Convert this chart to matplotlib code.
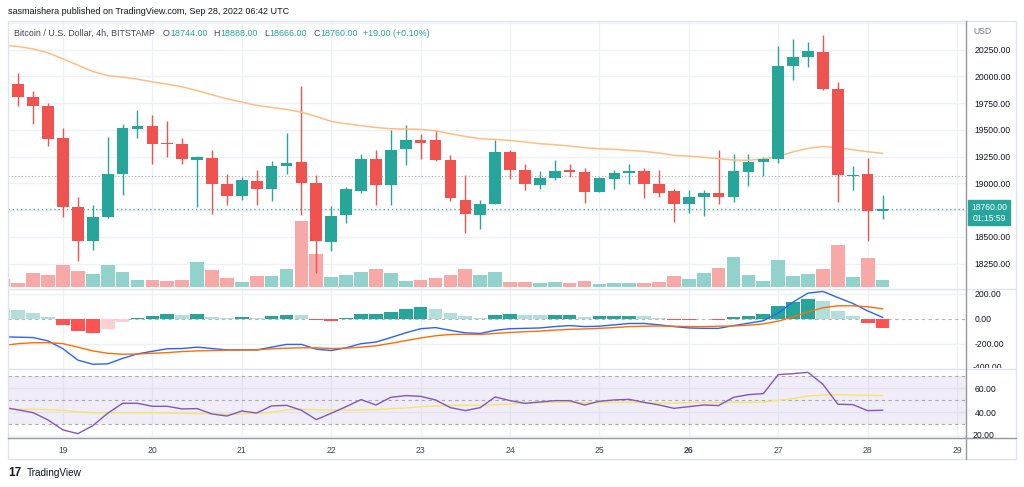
import matplotlib
matplotlib.use('Agg')
import matplotlib.pyplot as plt
from matplotlib.transforms import Bbox, TransformedBbox
from matplotlib.lines import Line2D
from matplotlib.patches import Rectangle

plt.rcParams['font.family'] = ['Liberation Sans', 'DejaVu Sans']

# ---------------- data (4h candles, 18 Sep 08:00 -> 28 Sep 04:00) ----------------
open_ = [20060, 19930, 19805, 19718, 19420, 18779, 18462, 18683, 19090, 19507,
         19535, 19370, 19367, 19221, 19239, 18991, 18879, 19019, 18944, 19162,
         19196, 19006, 18456, 18702, 18928, 19230, 18988, 19317, 19407, 19401,
         19221, 18841, 18708, 18810, 19292, 19121, 18988, 19053, 19121, 19103,
         18919, 19044, 19096, 19115, 18991, 18925, 18810, 18873, 18910, 18873,
         19106, 19202, 19230, 20097, 20178, 20231, 19883, 19065, 19084, 18744]
high = [20075, 20029, 19867, 19749, 19516, 18873, 18801, 19432, 19557, 19681,
        19634, 19578, 19426, 19255, 19308, 19090, 19059, 19127, 19205, 19473,
        19905, 19075, 18789, 18966, 19277, 19308, 19494, 19541, 19463, 19494,
        19267, 19075, 18848, 19401, 19308, 19177, 19112, 19215, 19177, 19146,
        19060, 19127, 19177, 19143, 19121, 18950, 18941, 18935, 19314, 19277,
        19270, 19246, 20287, 20349, 20324, 20387, 19945, 19159, 19236, 18888]
low = [19925, 19718, 19557, 19345, 18686, 18272, 18375, 18680, 18888, 19423,
       19183, 19246, 19183, 18779, 18717, 18795, 18848, 18801, 18835, 19084,
       18702, 18157, 18369, 18630, 18910, 18795, 18795, 19168, 19230, 19208,
       18835, 18537, 18577, 18805, 19044, 18935, 18950, 19034, 19059, 18817,
       18915, 18950, 18997, 18860, 18873, 18639, 18723, 18692, 18810, 18826,
       18978, 19072, 19193, 19967, 20085, 19874, 18826, 18935, 18462, 18666]
close = [19930, 19805, 19718, 19417, 18779, 18462, 18683, 19090, 19516, 19535,
         19370, 19365, 19227, 19249, 18991, 18879, 19028, 18944, 19165, 19190,
         19006, 18462, 18692, 18944, 19230, 18981, 19308, 19401, 19379, 19221,
         18863, 18711, 18810, 19292, 19121, 18997, 19053, 19115, 19106, 18919,
         19053, 19099, 19115, 18997, 18910, 18810, 18873, 18913, 18873, 19112,
         19202, 19227, 20097, 20185, 20234, 19883, 19075, 19075, 18741, 18760]
volume = [8, 3.7, 14, 12.3, 22, 16.3, 13, 22, 14.7, 6.7,
          6.7, 6.3, 7.3, 25, 17.3, 9, 5, 10.7, 11.3, 18,
          66.3, 33, 9.7, 12, 14.7, 17.7, 13.7, 5.7, 7, 8.7,
          12.3, 18.3, 12, 14.7, 4.7, 4.7, 4, 5.3, 4.3, 6.3,
          2.7, 3.7, 4, 4, 5.3, 11.3, 8, 13.7, 18.7, 30,
          12, 6.3, 26.7, 10.7, 13, 17.7, 42.3, 10, 29, 7.3]
ma_line = [20290, 20278, 20256, 20219, 20163, 20104, 20045, 20007, 19992, 19973,
           19948, 19926, 19902, 19867, 19827, 19790, 19759, 19728, 19709, 19690,
           19665, 19625, 19578, 19557, 19538, 19522, 19510, 19507, 19504, 19491,
           19463, 19438, 19417, 19410, 19401, 19386, 19370, 19361, 19348, 19333,
           19323, 19317, 19308, 19298, 19283, 19261, 19255, 19243, 19230, 19218,
           19215, 19227, 19249, 19295, 19326, 19345, 19333, 19314, 19295, 19280]
macd = [-145, -148, -151, -178, -241, -332, -365, -362, -318, -282,
        -261, -241, -239, -228, -239, -250, -250, -250, -228, -206,
        -206, -244, -255, -233, -200, -187, -151, -113, -80, -71,
        -93, -113, -118, -93, -80, -77, -74, -63, -55, -63,
        -60, -49, -38, -38, -49, -63, -74, -77, -77, -55,
        -36, -16, 47, 134, 206, 219, 170, 123, 63, 11]
signal = [-214, -200, -192, -192, -200, -228, -258, -277, -285, -283,
          -277, -272, -263, -258, -255, -252, -250, -250, -241, -236,
          -233, -233, -239, -236, -228, -217, -197, -176, -154, -137,
          -126, -124, -126, -118, -110, -104, -99, -91, -85, -82,
          -77, -71, -63, -60, -58, -60, -63, -63, -60, -58,
          -52, -41, -19, 14, 55, 88, 104, 104, 96, 80]
hist = [72, 68.6, 46.6, 11, -49, -99, -112, -85, -30, 8,
        25, 38, 33, 38, 14, 3, 11, 3, 22, 30,
        28, -11, -19, 8, 36, 37, 58, 82, 93, 80,
        49, 22, 3, 30, 36, 30, 28, 31, 32, 16,
        19, 20, 25, 19, 8, -8, -11, -2, -11, 11,
        25, 41, 101, 137, 156, 140, 66, 19, -38, -71]
rsi = [44.2, 42.0, 39.7, 33.6, 25.3, 22.2, 28.9, 39.2, 47.5, 47.5,
       45.0, 45.0, 42.8, 43.1, 38.6, 36.9, 41.1, 39.4, 45.3, 45.8,
       41.7, 33.9, 39.2, 44.7, 50.6, 46.1, 52.5, 53.9, 53.3, 50.3,
       43.9, 41.4, 43.9, 52.8, 49.7, 47.5, 48.6, 49.7, 49.7, 46.1,
       49.2, 50.3, 50.8, 48.3, 46.1, 43.3, 44.7, 46.1, 45.6, 52.5,
       54.7, 55.6, 71.4, 72.2, 73.3, 63.3, 46.7, 46.4, 41.4, 41.7]
rsi_ma = [42.5, 42.5, 42.5, 42.2, 41.7, 40.3, 39.7, 39.7, 39.7, 39.7,
          39.7, 39.4, 39.2, 38.9, 38.6, 38.3, 38.6, 39.2, 40.0, 42.2,
          42.5, 42.2, 41.9, 41.9, 41.9, 42.2, 43.1, 43.6, 44.7, 45.3,
          45.8, 45.8, 45.8, 46.4, 46.9, 47.5, 48.1, 48.3, 48.3, 48.1,
          48.1, 48.3, 48.3, 48.1, 47.8, 47.8, 48.1, 48.1, 48.1, 48.3,
          48.3, 48.6, 50.0, 51.4, 53.6, 54.4, 54.7, 54.4, 54.2, 53.9]
day_labels = ['19', '20', '21', '22', '23', '24', '25', '26', '27', '28', '29']
price_ticks = [20250, 20000, 19750, 19500, 19250, 19000, 18500, 18250]
price_grid = [20500, 20250, 20000, 19750, 19500, 19250, 19000, 18750, 18500, 18250]
macd_ticks = [200, 0, -200]
rsi_ticks = [60, 40]
prev_close_line = 19072

# ---------------- layout helpers ----------------
W, H = 1024, 487
def fx(x): return x / W
def fy(y): return 1 - y / H
def box(x0, y0, x1, y1): return [fx(x0), fy(y1), (x1 - x0) / W, (y1 - y0) / H]

fig = plt.figure(figsize=(W / 100, H / 100), dpi=100)
fig.patch.set_facecolor('white')

n = len(close)
idx = list(range(n))
XL = (0.31, 64.6)
day_pos = [4 + 6 * k for k in range(len(day_labels))]

UP, DN = '#26a69a', '#ef5350'
GRID = '#eef1f6'
TXT = '#131722'
LBL = '#434651'
AXC = '#9598a1'

def pv(ypix):  # price at a pixel row (for limits only)
    return 19000 + (183.3 - ypix) * 9.346

up = [c >= o for o, c in zip(open_, close)]

# ---------------- price pane ----------------
ax_v = fig.add_axes(box(8, 21, 966, 289))
ax_p = fig.add_axes(box(8, 21, 966, 289))
ax_p.patch.set_visible(False)

for d in day_pos:
    ax_v.axvline(d, color=GRID, lw=1, zorder=0)
for p in price_grid:
    ax_v.plot(XL, [p, p], transform=ax_p.transData, color=GRID, lw=1, zorder=0)
ax_v.bar(idx, volume, width=0.92, color=['#92d2cc' if u else '#f7a9a7' for u in up], zorder=2)
ax_v.set_xlim(XL)
ax_v.set_ylim(-2, 266)
ax_v.axis('off')

cols = [UP if u else DN for u in up]
ax_p.vlines(idx, low, high, colors=cols, lw=1, zorder=3)
bh = [max(abs(c - o), 10) for o, c in zip(open_, close)]
bb = [min(o, c) for o, c in zip(open_, close)]
ax_p.bar(idx, bh, bottom=bb, width=0.78, color=cols, zorder=4)
ax_p.plot(idx, ma_line, color='#ffbd80', lw=1.1, zorder=3)
ax_p.axhline(close[-1], color=UP, lw=1, ls=(0, (1, 2)), alpha=0.8, zorder=2)
ax_p.axhline(prev_close_line, color=AXC, lw=0.8, ls=(0, (1, 2)), alpha=0.8, zorder=2)
ax_p.set_xlim(XL)
ax_p.set_ylim(pv(289), pv(21))
ax_p.yaxis.tick_right()
ax_p.set_yticks(price_ticks)
ax_p.set_yticklabels([f'{v:.2f}' for v in price_ticks])
ax_p.tick_params(axis='y', length=0, pad=6, labelsize=6.2, labelcolor=TXT)
ax_p.set_xticks([])
for s in ax_p.spines.values():
    s.set_visible(False)

ax_p.annotate(f'{close[-1]:.2f}\n01:15:59', xy=(1, close[-1]), xycoords=('axes fraction', 'data'),
              xytext=(23, 6), textcoords='offset pixels', ha='center', va='top',
              fontsize=6.2, color='white', linespacing=1.25,
              bbox=dict(boxstyle='square,pad=0.3', fc=UP, ec=UP), annotation_clip=False)

# ---------------- MACD pane ----------------
ax_m = fig.add_axes(box(8, 289, 966, 369))
for d in day_pos:
    ax_m.axvline(d, color=GRID, lw=1, zorder=0)
for v in [200, -200, -400]:
    ax_m.axhline(v, color=GRID, lw=1, zorder=0)
ax_m.axhline(0, color='#b2b5be', lw=0.8, ls=(0, (3, 3)), zorder=1)
hcols = []
for i, h in enumerate(hist):
    prev = hist[i - 1] if i > 0 else h + 1
    if h >= 0:
        hcols.append('#26a69a' if h > prev else '#b2dfdb')
    else:
        hcols.append('#ffcdd2' if h > prev else '#ff5252')
ax_m.bar(idx, hist, width=0.92, color=hcols, zorder=2)
ax_m.plot(idx, macd, color='#2962ff', lw=1, zorder=3)
ax_m.plot(idx, signal, color='#ff6d00', lw=1, zorder=3)
ax_m.set_xlim(XL)
ax_m.set_ylim(-49 * 8.23, 29 * 8.23)
ax_m.yaxis.tick_right()
ax_m.set_yticks(macd_ticks)
ax_m.set_yticklabels([f'{v:.2f}' for v in macd_ticks])
ax_m.tick_params(axis='y', length=0, pad=6, labelsize=6.2, labelcolor=TXT)
ax_m.set_xticks([])
for s in ax_m.spines.values():
    s.set_visible(False)

# ---------------- RSI pane ----------------
ax_r = fig.add_axes(box(8, 369, 966, 438))
for d in day_pos:
    ax_r.axvline(d, color=GRID, lw=1, zorder=0)
for v in [20, 40, 60]:
    ax_r.axhline(v, color=GRID, lw=1, zorder=0)
ax_r.axhspan(30, 70, color='#7e57c2', alpha=0.1, lw=0, zorder=1)
for v in [70, 50, 30]:
    ax_r.axhline(v, color='#9598a1', lw=0.8, ls=(0, (3, 3)), alpha=0.8, zorder=2)
ax_r.plot(idx, rsi_ma, color='#f5e46a', lw=1, zorder=3)
ax_r.plot(idx, rsi, color='#7e57c2', lw=1, zorder=4)
ax_r.set_xlim(XL)
ax_r.set_ylim(50 - 37.7 / 1.2, 50 + 31.3 / 1.2)
ax_r.yaxis.tick_right()
ax_r.set_yticks(rsi_ticks)
ax_r.set_yticklabels([f'{v:.2f}' for v in rsi_ticks])
ax_r.tick_params(axis='y', length=0, pad=6, labelsize=6.2, labelcolor=TXT)
ax_r.set_xticks(day_pos)
ax_r.set_xticklabels(day_labels)
ax_r.tick_params(axis='x', length=0, pad=6, labelsize=6.2, labelcolor=LBL)
ax_r.get_xticklabels()[day_labels.index('26')].set_fontweight('bold')
for s in ax_r.spines.values():
    s.set_visible(False)

# clipped partial labels at pane edges
def clipped(x, y, s, y0, y1):
    t = fig.text(fx(x), fy(y), s, fontsize=6.2, color=TXT, va='center', ha='left')
    t.set_clip_box(TransformedBbox(Bbox([[fx(966), fy(y1)], [fx(1016), fy(y0)]]), fig.transFigure))
    t.set_clip_on(True)
clipped(973, 368, '-400.00', 289, 368)
clipped(973, 435.5, '20.00', 369, 438)

# ---------------- frame lines ----------------
def fline(x0, y0, x1, y1, c, lw=1):
    fig.add_artist(Line2D([fx(x0), fx(x1)], [fy(y0), fy(y1)], color=c, lw=lw))
fig.add_artist(Rectangle((fx(8), fy(459)), (1016 - 8) / W, (459 - 21) / H, transform=fig.transFigure,
                         fill=False, ec='#e0e3eb', lw=1))
fline(8, 289, 1016, 289, '#e0e3eb')
fline(8, 369, 1016, 369, '#e0e3eb')
fline(966, 21, 966, 459, AXC)
fline(8, 438, 1016, 438, AXC)

# ---------------- texts ----------------
fig.text(fx(8), fy(12), 'sasmaishera published on TradingView.com, Sep 28, 2022 06:42 UTC',
         fontsize=6.5, color=TXT, va='center')
fig.text(fx(973), fy(31), 'USD', fontsize=6.2, color='#787b86', va='center')

chg = close[-1] - close[-2]
leg = [('Bitcoin / U.S. Dollar, 4h, BITSTAMP', LBL, 8),
       ('O', LBL, 0.5), (f'{open_[-1]:.2f}', UP, 6),
       ('H', LBL, 0.5), (f'{high[-1]:.2f}', UP, 6),
       ('L', LBL, 0.5), (f'{low[-1]:.2f}', UP, 6),
       ('C', LBL, 0.5), (f'{close[-1]:.2f}', UP, 5),
       (f'+{chg:.2f} (+{chg / close[-2] * 100:.2f}%)', UP, 0)]
renderer = fig.canvas.get_renderer()
xcur = 14.0
for s, c, gap in leg:
    t = fig.text(fx(xcur), fy(33), s, fontsize=6.4, color=c, va='center')
    w = t.get_window_extent(renderer=renderer).width
    xcur += w + gap

fig.text(fx(8), fy(473), '17', fontsize=8.5, fontweight='bold', color=TXT, va='center')
fig.text(fx(27), fy(473), 'TradingView', fontsize=7.2, color=TXT, va='center')

fig.savefig('out.png', dpi=100, facecolor='white')
